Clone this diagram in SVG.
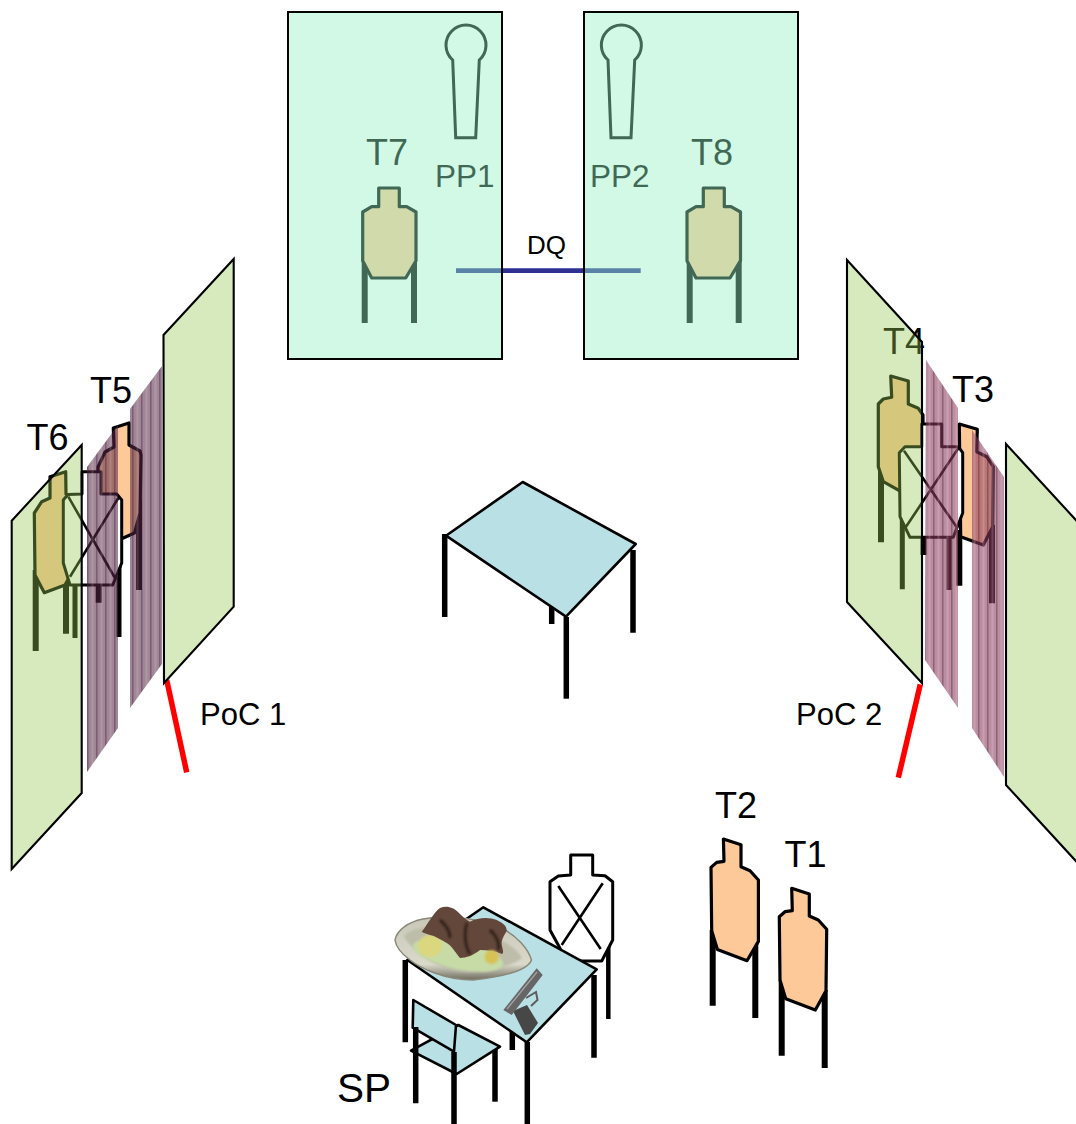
<svg xmlns="http://www.w3.org/2000/svg" width="1076" height="1124" viewBox="0 0 1076 1124">
<style>
text{font-family:"Liberation Sans",Arial,sans-serif;fill:#000}
.t36{font-size:36px}.t31{font-size:31.5px}.t40{font-size:40.5px}
.wall{fill:#94c952;fill-opacity:.38;stroke:#000;stroke-width:2.1}
.room{fill:#94f2c4;fill-opacity:.43;stroke:#000;stroke-width:2}
.tp{fill:#fdc998;stroke:#000;stroke-width:3.2;stroke-linejoin:round}
.tw{fill:#fff;stroke:#000;stroke-width:3;stroke-linejoin:round}
.tn{fill:none;stroke:#000;stroke-width:2.6}
.pp{fill:none;stroke:#000;stroke-width:3}
.leg{stroke:#000;fill:none;stroke-width:6}
.top{fill:#b9e0e4;stroke:#000;stroke-width:2.6;stroke-linejoin:round}
.red{stroke:#f00;stroke-width:5.5;fill:none}
.stripL{fill:url(#pL);filter:url(#soft)}
.stripR{fill:url(#pR);filter:url(#soft)}
</style>
<defs>
<pattern id="pL" patternUnits="userSpaceOnUse" width="9" height="20">
<rect width="9" height="20" fill="#5a2545" fill-opacity=".56"/>
<rect x="1.5" width="2" height="20" fill="#fff" fill-opacity=".14"/>
<rect x="6" width="1.5" height="20" fill="#2e1826" fill-opacity=".35"/>
</pattern>
<pattern id="pR" patternUnits="userSpaceOnUse" width="9" height="20">
<rect width="9" height="20" fill="#8c3a5c" fill-opacity=".58"/>
<rect x="1.5" width="2" height="20" fill="#fff" fill-opacity=".16"/>
<rect x="6" width="1.5" height="20" fill="#40202c" fill-opacity=".38"/>
</pattern>
<filter id="soft" x="-10%" y="-5%" width="120%" height="110%"><feGaussianBlur stdDeviation="0.6"/></filter>
<filter id="b1" x="-10%" y="-10%" width="120%" height="120%"><feGaussianBlur stdDeviation="0.9"/></filter>
<filter id="b2" x="-10%" y="-10%" width="120%" height="120%"><feGaussianBlur stdDeviation="0.4"/></filter>
<linearGradient id="plate" x1="0" y1="0" x2="0" y2="1"><stop offset="0" stop-color="#c8c8b8"/><stop offset=".75" stop-color="#dad9ca"/><stop offset="1" stop-color="#6f6c5e"/></linearGradient>
</defs>

<g id="connectors">
<line x1="456" y1="270.7" x2="640.7" y2="270.7" stroke="#2e3192" stroke-width="4.8"/>
<line class="red" x1="166.7" y1="680" x2="186.7" y2="772.3"/>
<line class="red" x1="920.3" y1="684.3" x2="898.3" y2="777.7"/>
</g>

<g id="T7">
<path class="leg" d="M364.7 260V323M414 260V323"/>
<path class="tp" d="M378.7 188H399.3V206.7H406.7L416 212V260.7L405.7 278H371.7L362.7 260.7V212L371.7 206.7H378.7Z"/>
<text class="t36" x="366" y="165">T7</text>
</g>
<g id="T8">
<path class="leg" d="M689.7 260V323M738.7 260V323"/>
<path class="tp" d="M703.3 188H724.3V206.7H731L740.5 212V260.7L730 278H696L687 260.7V212L696 206.7H703.3Z"/>
<text class="t36" x="691" y="165">T8</text>
</g>
<g id="PP1">
<path class="pp" d="M452.7 60A20 20 0 1 1 479.3 60L475.7 137.7H455.7Z"/>
<text class="t31" x="435" y="186.7">PP1</text>
</g>
<g id="PP2">
<path class="pp" d="M608 60A20 20 0 1 1 634.7 60L631 137.7H611Z"/>
<text class="t31" x="590" y="186.7">PP2</text>
</g>
<g id="room-left"><rect class="room" x="288" y="12" width="214" height="347"/></g>
<g id="room-right"><rect class="room" x="584" y="12" width="214" height="347"/></g>
<g id="DQ"><text x="527" y="254.3" style="font-size:26px">DQ</text></g>

<g id="center-table">
<path class="leg" style="stroke-width:5.5" d="M444.7 534V617M633 550V632.7M551.7 605V624"/>
<path class="top" d="M522.7 482L635.7 544L566 616.7L446 535.7Z"/>
<path class="leg" style="stroke-width:5.5" d="M566.3 617V698.7"/>
</g>

<g id="T5">
<path class="leg" d="M98.7 520V602.7M139 500V590"/>
<path class="tp" d="M113.3 428L129 423V445L140 451L141 455L140 513L134.5 533L122.7 538.3L106 540L98 515V467L105 452L114 447Z"/>
<text class="t36" x="90" y="403">T5</text>
</g>
<g id="T6">
<path class="leg" d="M35.7 570V651M66 560V633.7"/>
<path class="tp" d="M50 476.7L65.7 471.7L66 494L76 498V565L65 585L44.3 592.7L35 575L34.3 513L41.7 501.7L50 498Z"/>
<text class="t36" x="26.5" y="450">T6</text>
</g>
<g id="target-x-left">
<path class="leg" style="stroke-width:5" d="M75 580V638M119 560V637"/>
<path class="tw" d="M82 494V471.7H101V494H116.7L121.7 500V563L112.7 585H70L63.3 563V500L68 494.5Z"/>
<path class="tn" d="M68.3 496.7L115 578M118.3 498L70 576.7"/>
</g>
<g id="strips-left">
<path class="stripL" d="M87 467L118 425V728L87 772Z"/>
<path class="stripL" d="M130 409L162 366V664L130 708Z"/>
</g>
<g id="wall-left-near"><path class="wall" d="M11.7 520.7L81.7 445V793L11.7 869Z"/></g>
<g id="wall-left-far"><path class="wall" d="M163.5 335L233.7 259V606.7L164 683Z"/></g>

<g id="T4">
<path class="leg" d="M881 465V542.3M923.5 470V555"/>
<path class="tp" d="M890.7 376L908.3 381V404L918.3 408.3L923 415V490L899.3 490.7L883.3 481.7L878.3 466.7V404L883.3 399L891.7 397.3Z"/>
<text class="t36" x="883" y="354">T4</text>
</g>
<g id="T3">
<path class="leg" d="M959.3 530V585.7M992 525V603.3"/>
<path class="tp" d="M959.3 424L977.3 429.3L976.7 451.7L986.7 456.7L993.3 466.7L992.7 526.7L983.3 545L960.7 536.7Z"/>
<text class="t36" x="952" y="402">T3</text>
</g>
<g id="target-x-right">
<path class="leg" style="stroke-width:5" d="M902.3 510V589.3M949 530V590"/>
<path class="tw" d="M921.7 446.7V424H941.7V446.7H958.3L962.7 452.7V513L953.3 537.3H910L900 516.7L899.3 452.7L905 446.7Z"/>
<path class="tn" d="M904 450.7L957.3 528M958.3 448.3L905 528.3"/>
</g>
<g id="strips-right">
<path class="stripR" d="M926 360L958 408V708L925 660Z"/>
<path class="stripR" d="M972 430L1004 477V777L972 728Z"/>
</g>
<g id="wall-right-near"><path class="wall" d="M847 260L922 342V683L847 602Z"/></g>
<g id="wall-right-far"><path class="wall" d="M1006 444L1086 531V872L1006 785Z"/></g>

<g id="T2">
<path class="leg" d="M712.7 930V1005.7M755.3 940V1018"/>
<path class="tp" d="M723.4 839L741 844.7V866.7L750 870.7L758.4 880V941.4L747 960.7L717.4 949.4L711.7 930.7L711 867.4L716.7 862.4L724 861.4Z"/>
<text class="t36" x="715" y="817.7">T2</text>
</g>
<g id="T1">
<path class="leg" d="M781.7 980V1055.7M824.7 990V1068"/>
<path class="tp" d="M791.7 888.3L809.3 894V916L818.3 920L826.7 929.3L826 990.7L815.3 1010L785.7 998.7L780 980L779.3 916.7L785 911.7L792.3 910.7Z"/>
<text class="t36" x="784.5" y="867.3">T1</text>
</g>

<g id="target-x-front">
<path class="leg" style="stroke-width:4.5" d="M608.3 935V1019"/>
<path class="tw" d="M570.7 875V855H592.7V875L605 875.7L612.7 881.7V940L601.7 961H565L560 948.3L550 930V881.7L558.3 876Z"/>
<path class="tn" d="M558.3 886L600.7 949M602.7 883.3L561.7 945"/>
</g>
<g id="front-table">
<path class="leg" style="stroke-width:5.5" d="M405.3 960V1042.3M594 975V1057.7M512.3 1030V1050"/>
<path class="top" d="M483.3 907.3L596.7 969.3L526.7 1042.3L407.3 960Z"/>
<path class="leg" style="stroke-width:5.5" d="M527.3 1042V1124"/>
</g>
<g id="plate">
<path d="M395 940C397 930 408 922 423 919C450 914 490 920 505 930C516 936 528 948 531.5 960C528 969 510 976 473 980C445 980 420 968 410 960C402 954 396 948 395 940Z" fill="url(#plate)" stroke="#8a887a" stroke-width="1.5" filter="url(#b2)"/>
<path d="M404 936C412 928 430 925 450 928C480 930 512 940 522 958C510 968 480 973 462 972C440 970 412 952 404 936Z" fill="#bdbdaa" filter="url(#b1)"/>
<g filter="url(#b1)">
<ellipse cx="458" cy="955" rx="46" ry="14" fill="#c6dba6" transform="rotate(12 458 955)"/>
<ellipse cx="430" cy="946" rx="12" ry="11" fill="#dbd77e"/>
</g>
<path d="M421.7 931.7C428 924 434 912 440 908C447 905 454 908 458 912C462 916 466 920 470 921.7C478 917 490 917 496.7 920C503 923 507 926 506.7 931C504 936 501 940 501.7 945C503 950 504 953 502 954C495 951 488 950 480 950C474 955 466 958 460 958C455 952 452 946 446.7 943C440 939 435 936 430 935C427 934 424 933 421.7 931.7Z" fill="#63473b" filter="url(#b2)"/>
<path d="M467 923C463 935 466 948 470 954M490 930C497 936 500 945 498 950M440 920C446 925 450 930 450 938" fill="none" stroke="#34241d" stroke-width="3" filter="url(#b1)"/>
<circle cx="491.7" cy="957" r="7" fill="#d7c256" filter="url(#b1)"/>
</g>
<g id="pistol" filter="url(#b2)">
<path d="M513 1011L525 1035L530 1034L538 1023L527 1005Z" fill="#474747"/>
<path d="M503.3 1010L536.7 968.3L542.7 975L511.7 1015Z" fill="#666"/>
<path d="M507 1009L537 972" stroke="#a5a5a5" stroke-width="1.2" fill="none"/>
<path d="M526 998L536 992L537.5 1000L531 1006" fill="none" stroke="#5c5c5c" stroke-width="2"/>
</g>
<g id="chair">
<path class="leg" style="stroke-width:5.5" d="M495 1047V1101.7"/>
<path class="top" d="M411 1050.7L458.3 1025L500 1046.7L456.7 1074Z"/>
<path class="top" d="M413.3 1000L456 1025L454 1051.7L412.7 1027.7Z"/>
<path class="leg" style="stroke-width:5.5" d="M415.7 1027V1103.3M454 1052V1124"/>
<text class="t40" x="337" y="1101.7">SP</text>
</g>
<g id="PoC1"><text x="200" y="725" style="font-size:31px">PoC 1</text></g>
<g id="PoC2"><text x="796" y="725" style="font-size:31px">PoC 2</text></g>
</svg>
